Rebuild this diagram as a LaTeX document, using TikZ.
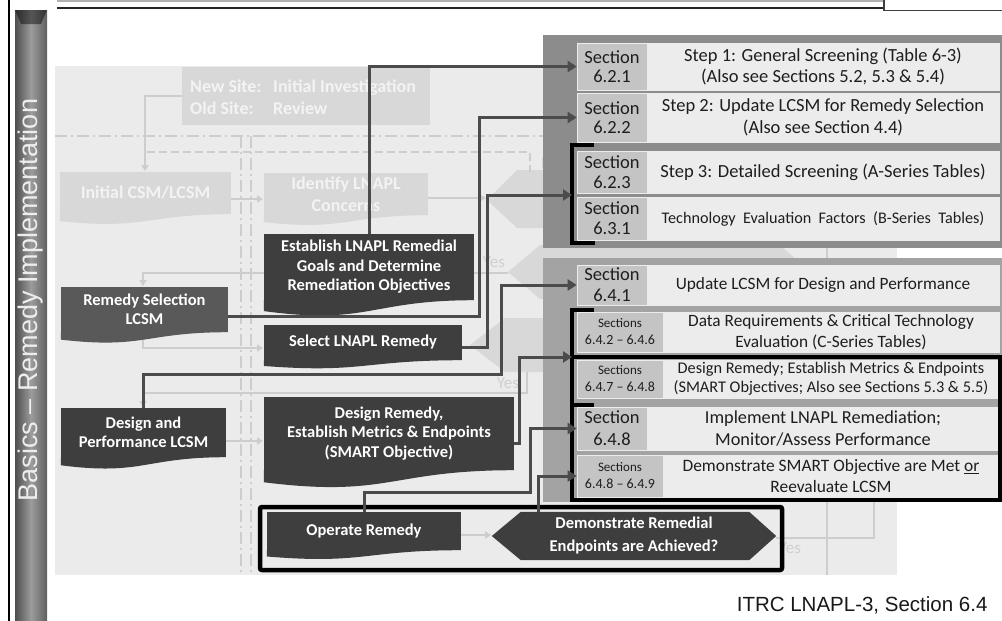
\documentclass[tikz,border=0pt]{standalone}
\usepackage{fontspec}
\setmainfont{Carlito}
\newfontfamily\arialf{Liberation Sans}
\usetikzlibrary{calc,arrows.meta}
\pgfdeclarelayer{back}
\pgfdeclarelayer{panel}
\pgfsetlayers{back,panel,main}
\definecolor{bgc}{HTML}{EBEBEB}
\definecolor{fadebox}{HTML}{D8D8D8}
\definecolor{fadetxt}{HTML}{F3F3F3}
\definecolor{fadeline}{HTML}{CDCDCD}
\definecolor{fadelbl}{HTML}{D0D0D0}
\definecolor{darkbox}{HTML}{3E3E3E}
\definecolor{midbox}{HTML}{595959}
\definecolor{panelA}{HTML}{8C8C8C}
\definecolor{panelB}{HTML}{A3A3A3}
\definecolor{seccell}{HTML}{C4C4C4}
\definecolor{txtcell}{HTML}{ECECEC}
\definecolor{conncol}{HTML}{4B4B4B}
\definecolor{celltext}{HTML}{1E1E1E}
\definecolor{barA}{HTML}{4E4E4E}
\definecolor{barB}{HTML}{9C9C9C}
\newcommand\fsz[2]{\fontsize{#1}{#2}\selectfont}
% wavy bottom of a document-shaped node: name, colour, body height
\newcommand\wave[3]{%
  \fill[#2] (#1.south east) .. controls (#1.south) and ($(#1.south)+(0,{0.38*#3})$) .. ($(#1.south west)+(0,{0.165*#3})$) -- (#1.south west) -- cycle;}
% box node by corners: name, x1, y1, x2, y2, style, text
\newcommand\mkbox[7]{\node[#6, minimum width={#4-#2}, minimum height={#5-#3}] (#1) at ({(#2+#4)/2},{(#3+#5)/2}) {#7};}
% table row: name, y1, y2, xsplit, secfont, sectext, txtfont, txttext
\newcommand\trow[8]{%
  \node[sec, font=#5, minimum width={#4-577}, minimum height={#3-#2}] (#1s) at ({(577+#4)/2},{(#2+#3)/2}) {#6};
  \node[txt, font=#7, minimum width={999-#4}, minimum height={#3-#2}] (#1t) at ({(#4+999)/2},{(#2+#3)/2}) {#8};}
\tikzset{
  dbox/.style={fill=darkbox, text=white, font=\bfseries\fsz{16.5}{19.5}, align=center, inner sep=0pt},
  mbox/.style={dbox, fill=midbox},
  fadebx/.style={fill=fadebox, text=fadetxt, font=\bfseries\fsz{18}{22}, align=center, inner sep=0pt},
  sec/.style={fill=seccell, draw=white!85!gray, line width=0.6pt, text=celltext, align=center, inner sep=0pt},
  txt/.style={fill=txtcell, draw=white!85!gray, line width=0.6pt, text=celltext, align=center, inner sep=0pt},
  conn/.style={draw=conncol, line width=3pt, -{Triangle[length=9pt,width=11pt]}},
  fl/.style={draw=fadeline, line width=1.6pt},
  fla/.style={fl, -{Triangle[length=6pt,width=7pt]}},
  brk/.style={draw=black, line width=4pt},
  dashdot/.style={draw=fadeline, line width=1.4pt, dash pattern=on 12pt off 4pt on 2pt off 4pt},
  dashd/.style={draw=fadeline, line width=1.4pt, dash pattern=on 8pt off 4pt},
  flbl/.style={text=fadelbl, font=\fsz{17}{20}, inner sep=0pt},
}
\begin{document}
\begin{tikzpicture}[x=1pt,y=-1pt]
\useasboundingbox (0,0) rectangle (1002,621);

% ---------------- faded background flowchart ----------------
\begin{pgfonlayer}{back}
\fill[white] (0,0) rectangle (1002,621);
\fill[bgc] (55,66) rectangle (897,575);
\fill[fadebox] (487,200) -- (517,170) -- (700,170) -- (730,200) -- (700,228) -- (517,228) -- cycle;
\fill[fadebox] (508,272) -- (540,245) -- (780,245) -- (810,272) -- (780,299) -- (540,299) -- cycle;
\fill[fadebox] (470,345) -- (505,318) -- (760,318) -- (790,345) -- (760,372) -- (505,372) -- cycle;
\mkbox{ns}{182}{67}{430}{125}{fadebx}{}
\node[fadebx, fill=none, anchor=west, align=left] (nst) at (190,97) {\makebox[83pt][l]{New Site:}Initial Investigation\\\makebox[83pt][l]{Old Site:}Review};
\mkbox{ic}{60}{172}{231}{214}{fadebx}{Initial CSM/LCSM}
\wave{ic}{fadebox}{42}
\mkbox{il}{264}{173}{428}{215}{fadebx}{Identify LNAPL\\Concerns}
\wave{il}{fadebox}{42}
\draw[fla] (182,96) -- (145,96) -- (145,171);
\draw[dashdot] (55,136) -- (543,136);
\draw[dashd] (147,152) -- (530,152) -- (530,172);
\draw[dashdot] (241,136) -- (241,575);
\draw[dashdot] (251,136) -- (251,575);
\draw[fla] (231,199) -- (263,199);
\draw[fla] (428,198) -- (486,198);
\draw[fla] (508,273) -- (143,273) -- (143,286);
\draw[fla] (143,340) -- (143,348) -- (263,348);
\draw[fl] (527,372) -- (527,393) -- (143,393);
\draw[fla] (143,393) -- (143,407);
\draw[fla] (226,441) -- (263,441);
\draw[fla] (461,535) -- (491,535);
\draw[fl] (776,538) -- (874,538) -- (874,502);
\draw[fl] (827,240) -- (827,575);
\node[flbl] (yes1) at (494,262) {Yes};
\node[flbl] (no1) at (551,163) {No};
\node[flbl] (yes2) at (508,383) {Yes};
\node[flbl] (yes3) at (790,548) {Yes};
\end{pgfonlayer}

% ---------------- panels ----------------
\begin{pgfonlayer}{panel}
\fill[panelA] (543,35) rectangle (1002,248);
\fill[panelB] (543,258) rectangle (1002,502);
\end{pgfonlayer}

% ---------------- table rows ----------------
\trow{r1}{43}{90}{647}{\fsz{18.5}{19}}{Section\\6.2.1}{\fsz{18.5}{20.5}}{Step 1: General Screening (Table 6-3)\\(Also see Sections 5.2, 5.3 \& 5.4)}
\trow{r2}{93}{142}{647}{\fsz{18.5}{19}}{Section\\6.2.2}{\fsz{18.5}{21.5}}{Step 2: Update LCSM for Remedy Selection\\(Also see Section 4.4)}
\trow{r3}{151}{193}{647}{\fsz{18.5}{20}}{Section\\6.2.3}{\fsz{18.5}{20}}{Step 3: Detailed Screening (A-Series Tables)}
\trow{r4}{197}{240}{647}{\fsz{18.5}{20}}{Section\\6.3.1}{\fsz{16.2}{18}}{Technology\ \ Evaluation\ \ Factors\ \ (B-Series\ \ Tables)}
\trow{r5}{265}{305}{647}{\fsz{18.5}{21}}{Section\\6.4.1}{\fsz{17.3}{20}}{Update LCSM for Design and Performance}
\trow{r6}{312}{352}{663}{\fsz{14}{17}}{{\fsz{13}{17}Sections}\\6.4.2 – 6.4.6}{\fsz{17.3}{20.5}}{Data Requirements \& Critical Technology\\Evaluation (C-Series Tables)}
\trow{r7}{360}{398}{663}{\fsz{14}{17}}{{\fsz{13}{17}Sections}\\6.4.7 – 6.4.8}{\fsz{16.3}{19}}{Design Remedy; Establish Metrics \& Endpoints\\(SMART Objectives; Also see Sections 5.3 \& 5.5)}
\trow{r8}{407}{450}{647}{\fsz{18.5}{22}}{Section\\6.4.8}{\fsz{18.3}{22}}{Implement LNAPL Remediation;\\Monitor/Assess Performance}
\trow{r9}{455}{497}{663}{\fsz{14}{17}}{{\fsz{13}{17}Sections}\\6.4.8 – 6.4.9}{\fsz{17.4}{21}}{Demonstrate SMART Objective are Met \underline{or}\\Reevaluate LCSM}

% ---------------- dark process boxes ----------------
\mkbox{est}{264}{234}{474}{300}{dbox}{Establish LNAPL Remedial\\Goals and Determine\\Remediation Objectives}
\wave{est}{darkbox}{66}
\mkbox{rs}{61}{287}{228}{332}{mbox}{Remedy Selection\\LCSM}
\wave{rs}{midbox}{45}
\mkbox{sel}{264}{325}{462}{360}{dbox}{Select LNAPL Remedy}
\wave{sel}{darkbox}{35}
\mkbox{dp}{61}{408}{226}{457}{dbox}{Design and\\Performance LCSM}
\wave{dp}{darkbox}{49}
\mkbox{dr}{264}{397}{514}{470}{dbox}{Design Remedy,\\Establish Metrics \& Endpoints\\(SMART Objective)}
\wave{dr}{darkbox}{73}
\mkbox{op}{267}{512}{461}{550}{dbox}{Operate Remedy}
\wave{op}{darkbox}{38}
\node[text=white, font=\bfseries\fsz{16.5}{23}, align=center, minimum width=284, minimum height=48, inner sep=0pt] (hex) at (634,536) {Demonstrate Remedial\\Endpoints are Achieved?};
\begin{pgfonlayer}{panel}
\fill[darkbox] (hex.west) -- ([xshift=29pt]hex.north west) -- ([xshift=-27pt]hex.north east) -- (hex.east) -- ([xshift=-27pt]hex.south east) -- ([xshift=29pt]hex.south west) -- cycle;
\end{pgfonlayer}
\node[draw=black, line width=4.5pt, rounded corners=2pt, minimum width=522, minimum height=63, inner sep=0pt] (frame) at (521,538.5) {};

% ---------------- brackets ----------------
\draw[brk] (594,145) -- (572,145) -- (572,243) -- (595,243);
\draw[brk] (594,310) -- (572,310) -- (572,405) -- (594,405);
\draw[brk] (572,357) rectangle (1000,500);

% ---------------- connectors ----------------
\coordinate (pb) at (479,316);
\coordinate (pc) at (487,347);
\coordinate (pd) at (501,374);
\coordinate (pe) at (519,443);
\coordinate (pf) at (530,492);
\coordinate (pg) at (538,477);
\coordinate (brA) at (572,195);
\coordinate (brB) at (572,357);
\draw[conn] (est.north) -- (est.north |- r1s.west) -- (r1s.west);
\draw[conn] (pb -| rs.east) -- (pb) -- (pb |- r2s.west) -- (r2s.west);
\draw[conn] (pc -| sel.east) -- (pc) -- (pc |- brA) -- (brA);
\draw[conn] (dp.north) -- (dp.north |- pd) -- (pd) -- (pd |- r5s.west) -- (r5s.west);
\draw[conn] (pe -| dr.east) -- (pe) -- (pe |- brB) -- (brB);
\draw[conn] (op.north) -- (op.north |- pf) -- (pf) -- (pf |- r8s.west) -- (r8s.west);
\draw[conn] (pg |- hex.north) -- (pg |- r9s.west) -- (r9s.west);

% ---------------- side bar and top rule ----------------
\shade[left color=barA, right color=barA!90, middle color=barB] (15,10) rectangle (47,621);
\fill[black, opacity=.45] (15,10) -- (47,10) -- (41,24) -- (21,24) -- cycle;
\node[rotate=90, font=\arialf\fsz{27}{27}, text=white!93!black] (bartext) at (31,300) {Basics – Remedy Implementation};
\draw[black, line width=2.5pt] (9,0) -- (9,621);
\draw[gray!60, line width=2pt] (57,1) -- (884,1);
\draw[black!85, line width=2.5pt] (57,8) -- (884,8);
\draw[black!75, line width=1.5pt] (884,0) -- (884,10.5) -- (1002,10.5);

\node[anchor=base east, font=\arialf\fsz{20.5}{24}, text=black!90] (itrc) at (991,611) {ITRC LNAPL-3, Section 6.4};
\end{tikzpicture}
\end{document}
